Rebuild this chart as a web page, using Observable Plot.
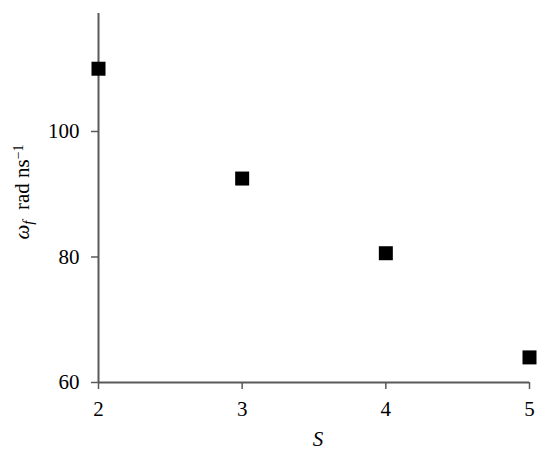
<!DOCTYPE html>
<html>
<head>
<meta charset="utf-8">
<script src="https://cdn.jsdelivr.net/npm/d3@7"></script>
<script src="https://cdn.jsdelivr.net/npm/@observablehq/plot@0.6"></script>
<style>
  html, body { margin: 0; padding: 0; background: #fff; }
  svg text { font-family: "Liberation Serif", serif; }
</style>
</head>
<body>
<div id="chart"></div>
<script>
const sValues = [2, 3, 4, 5];
const omegaValues = [110.0, 92.5, 80.6, 64.0];
const xTicks = [2, 3, 4, 5];
const yTicks = [60, 80, 100];
const xLabel = "S";
const yLabelParts = [
  {text: "ω", italic: true},
  {text: "f", italic: true, sub: true},
  {text: "\u2002rad ns", italic: false},
  {text: "−1", italic: false, sup: true}
];

const data = sValues.map((s, i) => ({s, w: omegaValues[i]}));
const axisColor = "#595959";
const font = "Liberation Serif";

const chart = Plot.plot({
  width: 550,
  height: 458,
  marginLeft: 98,
  marginRight: 21,
  marginTop: 13,
  marginBottom: 76,
  style: {fontFamily: font, fontSize: "21px", color: "#000", background: "#fff"},
  x: {domain: [2, 5], ticks: xTicks, label: null},
  y: {domain: [60, 118.8], ticks: yTicks, label: null},
  marks: [
    Plot.axisX({ticks: xTicks, tickFormat: d3.format("d"), tickSize: 7, tickPadding: 12, stroke: axisColor, strokeWidth: 1.5, fill: "#000", fontSize: 21, fontFamily: font, label: null}),
    Plot.axisY({ticks: yTicks, tickFormat: d3.format("d"), tickSize: 7, tickPadding: 12, stroke: axisColor, strokeWidth: 1.5, fill: "#000", fontSize: 21, fontFamily: font, label: null}),
    Plot.ruleY([60], {stroke: axisColor, strokeWidth: 2}),
    Plot.ruleX([2], {stroke: axisColor, strokeWidth: 2}),
    Plot.dot(data, {x: "s", y: "w", symbol: "square", r: 7.9, fill: "#000", stroke: null}),
    Plot.text([xLabel], {frameAnchor: "bottom", dx: 4, dy: 57, text: d => d, fontStyle: "italic", fontSize: 21, fontFamily: font, fill: "#000", lineAnchor: "middle"}),
    Plot.text(["label"], {
      frameAnchor: "left", dx: -70, dy: -6, rotate: -90, text: d => d, textAnchor: "middle", fontSize: 21, fontFamily: font, fill: "#000", lineAnchor: "bottom",
      render(index, scales, values, dims, context, next) {
        const g = next(index, scales, values, dims, context);
        const t = d3.select(g).select("text");
        t.text(null);
        for (const p of yLabelParts) {
          const ts = t.append("tspan").text(p.text);
          if (p.italic) ts.attr("font-style", "italic");
          if (p.sub) ts.attr("baseline-shift", "-25%").attr("font-size", 15);
          if (p.sup) ts.attr("baseline-shift", "45%").attr("font-size", 14);
        }
        return g;
      }
    })
  ]
});
document.getElementById("chart").appendChild(chart);
</script>
</body>
</html>
